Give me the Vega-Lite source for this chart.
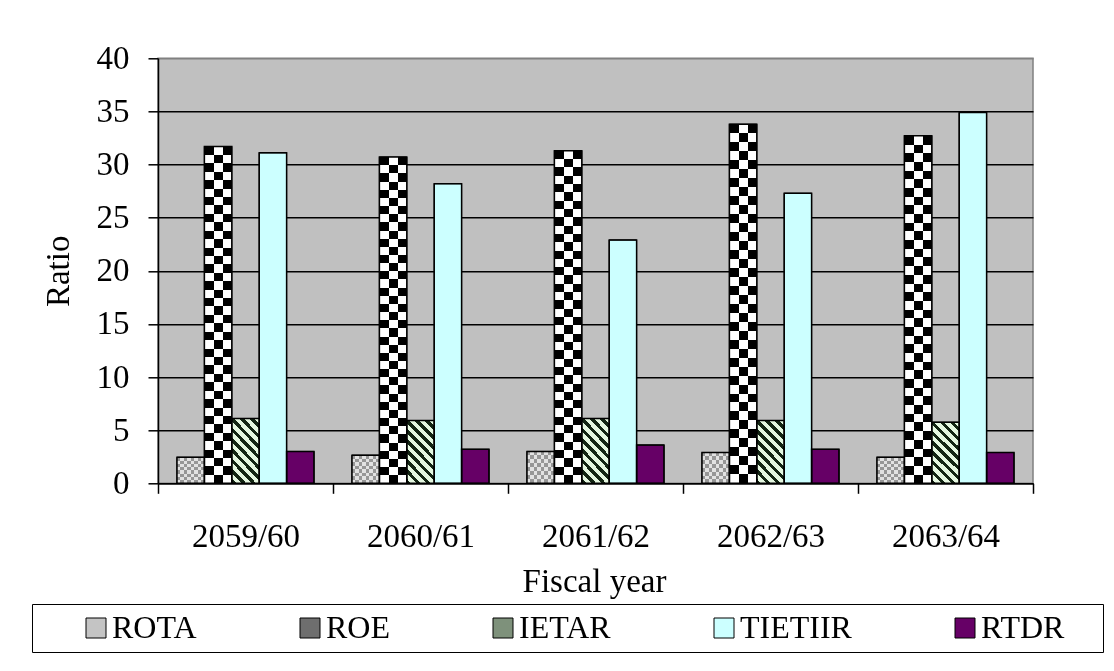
{
  "$schema": "https://vega.github.io/schema/vega-lite/v6.json",
  "width": 875,
  "height": 425,
  "autosize": {"type": "none"},
  "padding": {"left": 158, "top": 58.3, "right": 81, "bottom": 187.7},
  "background": "white",
  "config": {
    "font": "Liberation Serif",
    "view": {"stroke": "#808080", "strokeWidth": 1.5, "fill": "#c0c0c0"},
    "axis": {"labelColor": "black", "titleColor": "black", "titleFontWeight": "normal"}
  },
  "data": {
    "values": [
      {"year": "2059/60", "series": "ROTA", "value": 2.45},
      {"year": "2059/60", "series": "ROE", "value": 31.7},
      {"year": "2059/60", "series": "IETAR", "value": 6.1},
      {"year": "2059/60", "series": "TIETIIR", "value": 31.1},
      {"year": "2059/60", "series": "RTDR", "value": 3.0},
      {"year": "2060/61", "series": "ROTA", "value": 2.65},
      {"year": "2060/61", "series": "ROE", "value": 30.7},
      {"year": "2060/61", "series": "IETAR", "value": 5.9},
      {"year": "2060/61", "series": "TIETIIR", "value": 28.2},
      {"year": "2060/61", "series": "RTDR", "value": 3.2},
      {"year": "2061/62", "series": "ROTA", "value": 3.0},
      {"year": "2061/62", "series": "ROE", "value": 31.3},
      {"year": "2061/62", "series": "IETAR", "value": 6.1},
      {"year": "2061/62", "series": "TIETIIR", "value": 22.9},
      {"year": "2061/62", "series": "RTDR", "value": 3.6},
      {"year": "2062/63", "series": "ROTA", "value": 2.9},
      {"year": "2062/63", "series": "ROE", "value": 33.8},
      {"year": "2062/63", "series": "IETAR", "value": 5.9},
      {"year": "2062/63", "series": "TIETIIR", "value": 27.3},
      {"year": "2062/63", "series": "RTDR", "value": 3.2},
      {"year": "2063/64", "series": "ROTA", "value": 2.45},
      {"year": "2063/64", "series": "ROE", "value": 32.7},
      {"year": "2063/64", "series": "IETAR", "value": 5.75},
      {"year": "2063/64", "series": "TIETIIR", "value": 34.9},
      {"year": "2063/64", "series": "RTDR", "value": 2.9}
    ]
  },
  "encoding": {
    "x": {
      "field": "year",
      "type": "nominal",
      "scale": {"paddingInner": 0, "paddingOuter": 0},
      "axis": {
        "labelAngle": 0,
        "labelFontSize": 33,
        "labelBaseline": "alphabetic",
        "labelPadding": 53.4,
        "tickSize": 10,
        "tickWidth": 1.5,
        "tickColor": "black",
        "tickBand": "extent",
        "domainColor": "black",
        "domainWidth": 1.5,
        "title": "Fiscal year",
        "titleFontSize": 33,
        "titleBaseline": "alphabetic",
        "titleX": 436,
        "titleY": 108.4
      }
    },
    "xOffset": {
      "field": "series",
      "type": "nominal",
      "scale": {"domain": ["ROTA", "ROE", "IETAR", "TIETIIR", "RTDR"], "paddingInner": 0, "paddingOuter": 0.693}
    },
    "y": {
      "field": "value",
      "type": "quantitative",
      "scale": {"domain": [0, 40], "nice": false},
      "axis": {
        "values": [0, 5, 10, 15, 20, 25, 30, 35, 40],
        "labelFontSize": 33,
        "labelPadding": 19,
        "tickSize": 10,
        "tickWidth": 1.5,
        "tickColor": "black",
        "domainColor": "black",
        "domainWidth": 1.5,
        "gridColor": {"condition": {"test": "datum.value === 40", "value": "#808080"}, "value": "black"},
        "gridWidth": 1.5,
        "title": "Ratio",
        "titleFontSize": 33,
        "titleBaseline": "alphabetic",
        "titleX": -90,
        "titleY": 212.5
      }
    }
  },
  "layer": [
    {
      "mark": {"type": "bar", "stroke": "black", "strokeWidth": 1},
      "encoding": {
        "color": {
          "field": "series",
          "type": "nominal",
          "scale": {
            "domain": ["ROTA", "ROE", "IETAR", "TIETIIR", "RTDR"],
            "range": ["#c4c4c4", "#6e6e6e", "#7e917b", "#ccffff", "#660066"]
          },
          "legend": {
            "title": "\u00a0",
            "titleOrient": "right",
            "titlePadding": 31,
            "titleFontSize": 32,
            "orient": "none",
            "direction": "horizontal",
            "legendX": -126,
            "legendY": 545.7,
            "padding": 8,
            "strokeColor": "black",
            "fillColor": "white",
            "symbolType": "square",
            "symbolSize": 400,
            "symbolStrokeWidth": 1,
            "symbolOpacity": 1,
            "symbolOffset": 40,
            "labelFontSize": 32,
            "labelColor": "black",
            "labelOffset": 0,
            "columnPadding": 57
          }
        }
      }
    },
    {
      "transform": [{"filter": "datum.series === 'ROTA'"}],
      "mark": {
        "type": "bar",
        "fill": {
          "gradient": "linear", "x1": 0, "y1": 0, "x2": 1, "y2": 0,
          "stops": [
            {"offset": 0, "color": "#000000"}, {"offset": 0.125, "color": "#000000"},
            {"offset": 0.125, "color": "#ffffff"}, {"offset": 0.25, "color": "#ffffff"},
            {"offset": 0.25, "color": "#000000"}, {"offset": 0.375, "color": "#000000"},
            {"offset": 0.375, "color": "#ffffff"}, {"offset": 0.5, "color": "#ffffff"},
            {"offset": 0.5, "color": "#000000"}, {"offset": 0.625, "color": "#000000"},
            {"offset": 0.625, "color": "#ffffff"}, {"offset": 0.75, "color": "#ffffff"},
            {"offset": 0.75, "color": "#000000"}, {"offset": 0.875, "color": "#000000"},
            {"offset": 0.875, "color": "#ffffff"}, {"offset": 1, "color": "#ffffff"}
          ]
        }
      }
    },
    {
      "transform": [{"filter": "datum.series === 'ROTA'"}],
      "mark": {
        "type": "bar",
        "blend": "difference",
        "fill": {
          "gradient": "linear", "x1": 0, "y1": 0, "x2": 0, "y2": 1,
          "stops": [
            {"offset": 0, "color": "#000000"}, {"offset": 0.125, "color": "#000000"},
            {"offset": 0.125, "color": "#ffffff"}, {"offset": 0.25, "color": "#ffffff"},
            {"offset": 0.25, "color": "#000000"}, {"offset": 0.375, "color": "#000000"},
            {"offset": 0.375, "color": "#ffffff"}, {"offset": 0.5, "color": "#ffffff"},
            {"offset": 0.5, "color": "#000000"}, {"offset": 0.625, "color": "#000000"},
            {"offset": 0.625, "color": "#ffffff"}, {"offset": 0.75, "color": "#ffffff"},
            {"offset": 0.75, "color": "#000000"}, {"offset": 0.875, "color": "#000000"},
            {"offset": 0.875, "color": "#ffffff"}, {"offset": 1, "color": "#ffffff"}
          ]
        }
      }
    },
    {
      "transform": [{"filter": "datum.series === 'ROTA'"}],
      "mark": {"type": "bar", "fill": "#d4d4d4", "fillOpacity": 0.706}
    },
    {
      "transform": [{"filter": "datum.series === 'ROE'"}],
      "mark": {
        "type": "bar",
        "fill": {
          "gradient": "linear", "x1": 0, "y1": 0, "x2": 1, "y2": 0,
          "stops": [
            {"offset": 0, "color": "#000000"}, {"offset": 0.3333, "color": "#000000"},
            {"offset": 0.3333, "color": "#ffffff"}, {"offset": 0.6667, "color": "#ffffff"},
            {"offset": 0.6667, "color": "#000000"}, {"offset": 1, "color": "#000000"}
          ]
        }
      }
    },
    {
      "transform": [{"filter": "datum.series === 'ROE'"}],
      "mark": {
        "type": "bar",
        "blend": "difference",
        "fill": {
          "gradient": "linear", "x1": 0, "y1": 0, "x2": 0, "y2": 1,
          "stops": [
            {"offset": 0, "color": "#000000"}, {"offset": 0.025, "color": "#000000"},
            {"offset": 0.025, "color": "#ffffff"}, {"offset": 0.05, "color": "#ffffff"},
            {"offset": 0.05, "color": "#000000"}, {"offset": 0.075, "color": "#000000"},
            {"offset": 0.075, "color": "#ffffff"}, {"offset": 0.1, "color": "#ffffff"},
            {"offset": 0.1, "color": "#000000"}, {"offset": 0.125, "color": "#000000"},
            {"offset": 0.125, "color": "#ffffff"}, {"offset": 0.15, "color": "#ffffff"},
            {"offset": 0.15, "color": "#000000"}, {"offset": 0.175, "color": "#000000"},
            {"offset": 0.175, "color": "#ffffff"}, {"offset": 0.2, "color": "#ffffff"},
            {"offset": 0.2, "color": "#000000"}, {"offset": 0.225, "color": "#000000"},
            {"offset": 0.225, "color": "#ffffff"}, {"offset": 0.25, "color": "#ffffff"},
            {"offset": 0.25, "color": "#000000"}, {"offset": 0.275, "color": "#000000"},
            {"offset": 0.275, "color": "#ffffff"}, {"offset": 0.3, "color": "#ffffff"},
            {"offset": 0.3, "color": "#000000"}, {"offset": 0.325, "color": "#000000"},
            {"offset": 0.325, "color": "#ffffff"}, {"offset": 0.35, "color": "#ffffff"},
            {"offset": 0.35, "color": "#000000"}, {"offset": 0.375, "color": "#000000"},
            {"offset": 0.375, "color": "#ffffff"}, {"offset": 0.4, "color": "#ffffff"},
            {"offset": 0.4, "color": "#000000"}, {"offset": 0.425, "color": "#000000"},
            {"offset": 0.425, "color": "#ffffff"}, {"offset": 0.45, "color": "#ffffff"},
            {"offset": 0.45, "color": "#000000"}, {"offset": 0.475, "color": "#000000"},
            {"offset": 0.475, "color": "#ffffff"}, {"offset": 0.5, "color": "#ffffff"},
            {"offset": 0.5, "color": "#000000"}, {"offset": 0.525, "color": "#000000"},
            {"offset": 0.525, "color": "#ffffff"}, {"offset": 0.55, "color": "#ffffff"},
            {"offset": 0.55, "color": "#000000"}, {"offset": 0.575, "color": "#000000"},
            {"offset": 0.575, "color": "#ffffff"}, {"offset": 0.6, "color": "#ffffff"},
            {"offset": 0.6, "color": "#000000"}, {"offset": 0.625, "color": "#000000"},
            {"offset": 0.625, "color": "#ffffff"}, {"offset": 0.65, "color": "#ffffff"},
            {"offset": 0.65, "color": "#000000"}, {"offset": 0.675, "color": "#000000"},
            {"offset": 0.675, "color": "#ffffff"}, {"offset": 0.7, "color": "#ffffff"},
            {"offset": 0.7, "color": "#000000"}, {"offset": 0.725, "color": "#000000"},
            {"offset": 0.725, "color": "#ffffff"}, {"offset": 0.75, "color": "#ffffff"},
            {"offset": 0.75, "color": "#000000"}, {"offset": 0.775, "color": "#000000"},
            {"offset": 0.775, "color": "#ffffff"}, {"offset": 0.8, "color": "#ffffff"},
            {"offset": 0.8, "color": "#000000"}, {"offset": 0.825, "color": "#000000"},
            {"offset": 0.825, "color": "#ffffff"}, {"offset": 0.85, "color": "#ffffff"},
            {"offset": 0.85, "color": "#000000"}, {"offset": 0.875, "color": "#000000"},
            {"offset": 0.875, "color": "#ffffff"}, {"offset": 0.9, "color": "#ffffff"},
            {"offset": 0.9, "color": "#000000"}, {"offset": 0.925, "color": "#000000"},
            {"offset": 0.925, "color": "#ffffff"}, {"offset": 0.95, "color": "#ffffff"},
            {"offset": 0.95, "color": "#000000"}, {"offset": 0.975, "color": "#000000"},
            {"offset": 0.975, "color": "#ffffff"}, {"offset": 1, "color": "#ffffff"}
          ]
        }
      }
    },
    {
      "transform": [{"filter": "datum.series === 'IETAR'"}],
      "mark": {
        "type": "bar",
        "fill": {
          "gradient": "linear", "x1": 0, "y1": 1, "x2": 0.531, "y2": -0.206,
          "stops": [
            {"offset": 0, "color": "#142614"}, {"offset": 0.05, "color": "#142614"},
            {"offset": 0.05, "color": "#e5f7e0"}, {"offset": 0.1111, "color": "#e5f7e0"},
            {"offset": 0.1111, "color": "#142614"}, {"offset": 0.1611, "color": "#142614"},
            {"offset": 0.1611, "color": "#e5f7e0"}, {"offset": 0.2222, "color": "#e5f7e0"},
            {"offset": 0.2222, "color": "#142614"}, {"offset": 0.2722, "color": "#142614"},
            {"offset": 0.2722, "color": "#e5f7e0"}, {"offset": 0.3333, "color": "#e5f7e0"},
            {"offset": 0.3333, "color": "#142614"}, {"offset": 0.3833, "color": "#142614"},
            {"offset": 0.3833, "color": "#e5f7e0"}, {"offset": 0.4444, "color": "#e5f7e0"},
            {"offset": 0.4444, "color": "#142614"}, {"offset": 0.4944, "color": "#142614"},
            {"offset": 0.4944, "color": "#e5f7e0"}, {"offset": 0.5556, "color": "#e5f7e0"},
            {"offset": 0.5556, "color": "#142614"}, {"offset": 0.6056, "color": "#142614"},
            {"offset": 0.6056, "color": "#e5f7e0"}, {"offset": 0.6667, "color": "#e5f7e0"},
            {"offset": 0.6667, "color": "#142614"}, {"offset": 0.7167, "color": "#142614"},
            {"offset": 0.7167, "color": "#e5f7e0"}, {"offset": 0.7778, "color": "#e5f7e0"},
            {"offset": 0.7778, "color": "#142614"}, {"offset": 0.8278, "color": "#142614"},
            {"offset": 0.8278, "color": "#e5f7e0"}, {"offset": 0.8889, "color": "#e5f7e0"},
            {"offset": 0.8889, "color": "#142614"}, {"offset": 0.9389, "color": "#142614"},
            {"offset": 0.9389, "color": "#e5f7e0"}, {"offset": 1, "color": "#e5f7e0"}
          ]
        }
      }
    },
    {
      "mark": {"type": "bar", "fill": null, "fillOpacity": 0, "stroke": "black", "strokeWidth": 1.5}
    }
  ]
}
